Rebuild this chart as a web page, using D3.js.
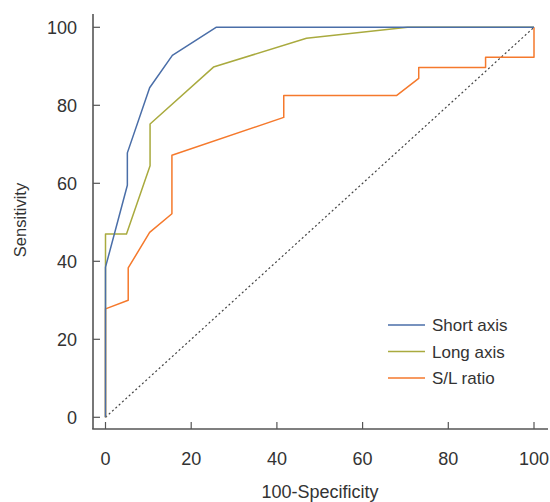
<!DOCTYPE html>
<html>
<head>
<meta charset="utf-8">
<script src="https://cdn.jsdelivr.net/npm/d3@7.9.0/dist/d3.min.js"></script>
<style>
  body { margin: 0; background: #fff; }
  svg text { font-family: "Liberation Sans", Arial, sans-serif; fill: #333; }
</style>
</head>
<body>
<svg id="chart" width="550" height="502"></svg>
<script>
// ROC curves, values (100-specificity, sensitivity)
const shortAxis = [[0, 0], [0, 38.5], [5.1, 59.5], [5.1, 67.8], [10.3, 84.5], [15.6, 92.8], [25.8, 100], [100, 100]];
const longAxis = [[0, 0], [0, 47], [4.9, 47], [10.4, 64.5], [10.4, 75.2], [25.2, 89.8], [46.9, 97.2], [70.5, 100], [100, 100]];
const slRatio = [[0, 0], [0, 27.8], [5.3, 30], [5.3, 38.3], [10.3, 47.4], [15.5, 52.2], [15.5, 67.2], [41.6, 76.9], [41.6, 82.5],
  [67.9, 82.5], [73.1, 86.9], [73.1, 89.7], [88.7, 89.7], [88.7, 92.3], [100, 92.3], [100, 100]];
const reference = [[0, 0], [100, 100]];

const seriesNames = ['Short axis', 'Long axis', 'S/L ratio'];
const seriesColors = ['#4a6ea8', '#a9aa3e', '#f5792c'];
const ticks = [0, 20, 40, 60, 80, 100];

const svg = d3.select('#chart');

const x = d3.scaleLinear().domain([0, 100]).range([105.5, 534]);
const y = d3.scaleLinear().domain([0, 100]).range([417.3, 27.3]);

const axisColor = '#555';

// axis lines
svg.append('line')
  .attr('x1', 93).attr('x2', 93).attr('y1', 14).attr('y2', 429)
  .attr('stroke', axisColor).attr('stroke-width', 1.6);
svg.append('line')
  .attr('x1', 92.2).attr('x2', 548).attr('y1', 429).attr('y2', 429)
  .attr('stroke', axisColor).attr('stroke-width', 1.6);

// y ticks
const yTicks = svg.append('g').selectAll('g').data(ticks).join('g')
  .attr('transform', d => `translate(0,${y(d)})`);
yTicks.append('line').attr('x1', 93).attr('x2', 100)
  .attr('stroke', axisColor).attr('stroke-width', 1.2);
yTicks.append('text').attr('x', 77).attr('dy', '0.36em')
  .attr('text-anchor', 'end').attr('font-size', 18).text(d => d);

// x ticks
const xTicks = svg.append('g').selectAll('g').data(ticks).join('g')
  .attr('transform', d => `translate(${x(d)},0)`);
xTicks.append('line').attr('y1', 429).attr('y2', 422)
  .attr('stroke', axisColor).attr('stroke-width', 1.2);
xTicks.append('text').attr('y', 465)
  .attr('text-anchor', 'middle').attr('font-size', 18).text(d => d);

// axis titles
svg.append('text').attr('x', 320).attr('y', 498)
  .attr('text-anchor', 'middle').attr('font-size', 18).text('100-Specificity');
svg.append('text')
  .attr('transform', 'translate(26,220) rotate(-90)')
  .attr('text-anchor', 'middle').attr('font-size', 16.5).text('Sensitivity');

const line = d3.line().x(d => x(d[0])).y(d => y(d[1]));

// chance diagonal
svg.append('path').attr('d', line(reference))
  .attr('fill', 'none').attr('stroke', '#444').attr('stroke-width', 1.2)
  .attr('stroke-dasharray', '2,2.5');

[slRatio, longAxis, shortAxis].forEach((s, i) => {
  const idx = 2 - i;
  svg.append('path').attr('d', line(s))
    .attr('fill', 'none').attr('stroke', seriesColors[idx])
    .attr('stroke-width', 1.5).attr('stroke-linejoin', 'round');
});

// legend
const legend = svg.append('g').selectAll('g').data(seriesNames).join('g')
  .attr('transform', (d, i) => `translate(388,${325 + i * 26.5})`);
legend.append('line').attr('x1', 0).attr('x2', 37)
  .attr('stroke', (d, i) => seriesColors[i]).attr('stroke-width', 1.5);
legend.append('text').attr('x', 44).attr('dy', '0.36em')
  .attr('font-size', 17).text(d => d);
</script>
</body>
</html>
